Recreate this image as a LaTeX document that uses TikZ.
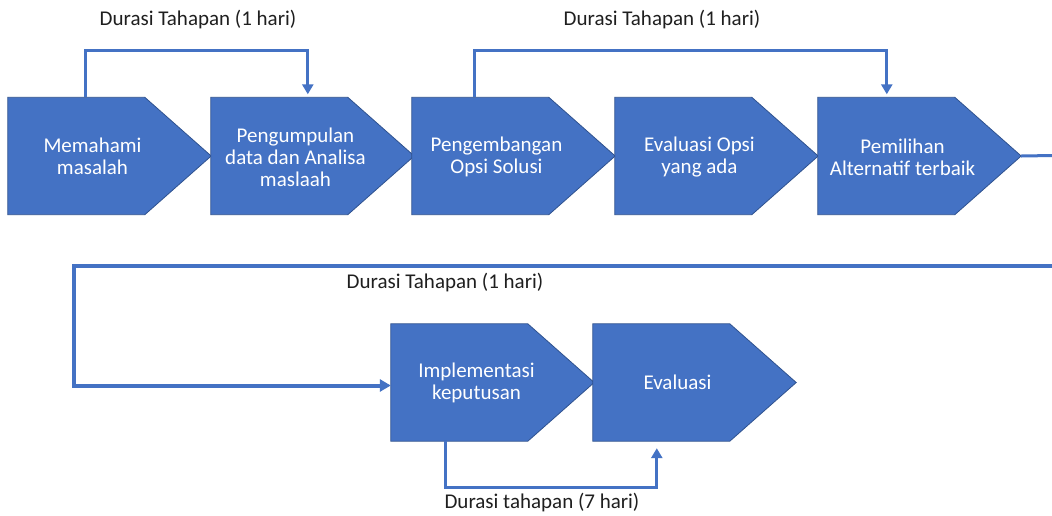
\documentclass[tikz,border=0pt]{standalone}
\usepackage{fontspec}
\setmainfont{Carlito}
\usetikzlibrary{calc,arrows.meta}
\definecolor{stepblue}{HTML}{4472C4}
\definecolor{stepedge}{HTML}{2F528F}
\definecolor{labelgray}{HTML}{1F1F1F}
\begin{document}
\begin{tikzpicture}[x=1pt,y=-1pt,
  stepframe/.style={minimum width=203pt, minimum height=117pt, inner sep=0pt, draw=none},
  stepshape/.style={fill=stepblue, draw=stepedge, line width=0.8pt, line join=miter},
  steptext/.style={text=white, align=center, inner sep=0pt, font=\fontsize{21}{22}\selectfont},
  durlabel/.style={text=labelgray, inner sep=0pt, font=\fontsize{21}{25}\selectfont},
  conn/.style={draw=stepblue, line width=3pt, -{Triangle[length=10pt,width=11pt]}},
  bigconn/.style={draw=stepblue, line width=4pt, -{Triangle[length=11pt,width=12pt]}},
  ]
\fill[white] (0,0) rectangle (1052,515);
\useasboundingbox (0,0) rectangle (1052,515);

% step frames
\foreach \n/\l/\t in {s1/8/97.5, s2/211/97.5, s3/412/97.5, s4/615/97.5, s5/818/97.5, s6/391/324, s7/593/324}{
  \node[stepframe] (\n) at ({\l+101.5},{\t+58.5}) {};
}
% pentagon arrows
\foreach \n in {s1,s2,s3,s4,s5,s6,s7}{
  \path[stepshape] (\n.north west) -- ($(\n.north west)+(137,0)$) -- (\n.east)
    -- ($(\n.south west)+(137,0)$) -- (\n.south west) -- cycle;
}

% texts
\node[steptext] (t1) at ($(s1.center)+(-17,0)$) {Memahami\\masalah};
\node[steptext] (t2) at ($(s2.center)+(-17,1)$) {Pengumpulan\\data dan Analisa\\maslaah};
\node[steptext] (t3) at ($(s3.center)+(-17,1)$) {Pengembangan\\Opsi Solusi};
\node[steptext] (t4) at ($(s4.center)+(-17,1)$) {Evaluasi Opsi\\yang ada};
\node[steptext] (t5) at ($(s5.center)+(-17,1)$) {Pemilihan\\Alternatif terbaik};
\node[steptext] (t6) at ($(s6.center)+(-16,0)$) {Implementasi\\keputusan};
\node[steptext] (t7) at ($(s7.center)+(-17,0)$) {Evaluasi};

% connectors
\draw[conn] ($(s1.north west)+(78,0)$) -- ++(0,-47) -| ($(s2.north west)+(97,-3)$);
\draw[conn] ($(s3.north west)+(63,0)$) -- ++(0,-47) -| ($(s5.north west)+(69,-3)$);

\coordinate (e1) at (1053,155.5);
\coordinate (e2) at (1053,266);
\coordinate (k1) at (74,266);
\draw[stepblue, line width=3pt] (s5.east) -- (e1);
\draw[bigconn] (e2) -- (k1) |- ($(s6.west)+(0,3)$);

\draw[conn] ($(s6.south west)+(55,0)$) -- ++(0,46) -| ($(s7.south west)+(64,7)$);

% labels
\node[durlabel] (l1) at (198,20) {Durasi Tahapan (1 hari)};
\node[durlabel] (l2) at (662,20) {Durasi Tahapan (1 hari)};
\node[durlabel] (l3) at (445,283) {Durasi Tahapan (1 hari)};
\node[durlabel] (l4) at (542,503) {Durasi tahapan (7 hari)};
\end{tikzpicture}
\end{document}
